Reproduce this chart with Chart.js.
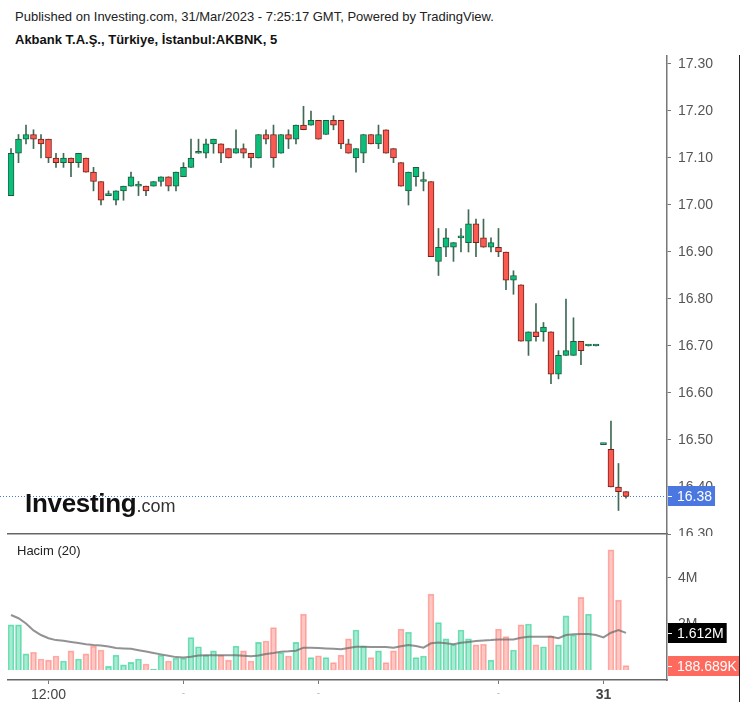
<!DOCTYPE html>
<html>
<head>
<meta charset="utf-8">
<script src="https://cdn.jsdelivr.net/npm/chart.js@4.4.0/dist/chart.umd.min.js"></script>
<style>
  body { margin: 0; background: #fff; width: 747px; height: 707px; overflow: hidden; position: relative; font-family: "Liberation Sans", Arial, sans-serif; }
  .txt { position: absolute; white-space: nowrap; line-height: 13px; font-size: 13px; color: #222; }
  #price_chart { position: absolute; left: 0; top: 55px; }
  #volume_chart { position: absolute; left: 0; top: 535px; }
  #logo { position: absolute; left: 25px; top: 490px; line-height: 26px; white-space: nowrap; color: #111; }
  #logo b { font-size: 26px; letter-spacing: -0.3px; }
  #logo span { font-size: 18px; color: #333; }
  #edge { position: absolute; left: 739px; top: 55px; width: 1px; height: 647px; background: #222; }
</style>
</head>
<body>
<div class="txt" style="left:15px; top:10px;">Published on Investing.com, 31/Mar/2023 - 7:25:17 GMT, Powered by TradingView.</div>
<div class="txt" style="left:15px; top:33px; font-weight:bold; color:#111;">Akbank T.A.Ş., Türkiye, İstanbul:AKBNK, 5</div>
<canvas id="price_chart" width="747" height="481"></canvas>
<canvas id="volume_chart" width="747" height="172"></canvas>
<div id="logo"><b>Investing</b><span>.com</span></div>
<div class="txt" style="left:17px; top:544px;">Hacim (20)</div>
<div id="edge"></div>
<script>
// 5 minute candles, AKBNK
const opens = [17.02,17.11,17.14,17.15,17.14,17.14,17.10,17.09,17.10,17.09,
  17.10,17.07,17.05,17.02,17.01,17.03,17.04,17.04,17.04,17.04,
  17.05,17.06,17.04,17.06,17.08,17.11,17.11,17.13,17.13,17.12,
  17.11,17.12,17.11,17.10,17.15,17.15,17.11,17.15,17.14,17.17,
  17.17,17.18,17.15,17.18,17.18,17.13,17.10,17.11,17.15,17.13,
  17.16,17.12,17.09,17.03,17.06,17.05,17.05,16.88,16.91,16.91,
  16.93,16.92,16.96,16.93,16.91,16.91,16.90,16.84,16.83,16.71,
  16.73,16.73,16.73,16.64,16.68,16.68,16.71,16.70,16.70,16.49,
  16.48,16.40,16.39];
const highs = [17.12,17.15,17.17,17.16,17.15,17.14,17.11,17.11,17.10,17.11,
  17.10,17.08,17.05,17.03,17.03,17.04,17.07,17.05,17.04,17.05,
  17.06,17.06,17.07,17.09,17.14,17.14,17.14,17.14,17.13,17.12,
  17.16,17.13,17.11,17.15,17.16,17.17,17.15,17.16,17.17,17.21,
  17.20,17.18,17.18,17.19,17.18,17.14,17.12,17.15,17.15,17.17,
  17.16,17.12,17.09,17.07,17.08,17.07,17.05,16.95,16.95,16.92,
  16.95,16.99,16.97,16.97,16.93,16.95,16.90,16.86,16.83,16.73,
  16.79,16.75,16.73,16.69,16.80,16.76,16.71,16.70,16.70,16.49,
  16.54,16.45,16.39];
const lows = [17.02,17.09,17.13,17.12,17.10,17.09,17.08,17.08,17.06,17.08,
  17.07,17.03,17.00,17.02,17.00,17.01,17.04,17.02,17.02,17.04,
  17.04,17.03,17.03,17.06,17.08,17.11,17.10,17.11,17.09,17.10,
  17.11,17.10,17.08,17.10,17.13,17.08,17.11,17.12,17.13,17.16,
  17.17,17.14,17.15,17.16,17.12,17.11,17.07,17.09,17.13,17.12,
  17.11,17.09,17.04,17.00,17.04,17.03,16.89,16.85,16.89,16.88,
  16.90,16.90,16.89,16.91,16.90,16.89,16.82,16.81,16.71,16.68,
  16.71,16.71,16.62,16.63,16.68,16.68,16.66,16.70,16.70,16.49,
  16.40,16.35,16.376];
const closes = [17.11,17.14,17.15,17.14,17.13,17.10,17.09,17.10,17.09,17.11,
  17.07,17.05,17.01,17.02,17.03,17.04,17.06,17.04,17.03,17.05,
  17.06,17.04,17.07,17.08,17.10,17.11,17.13,17.14,17.11,17.10,
  17.12,17.11,17.10,17.15,17.14,17.10,17.15,17.14,17.17,17.16,
  17.18,17.14,17.18,17.17,17.13,17.11,17.12,17.15,17.13,17.15,
  17.11,17.10,17.04,17.07,17.08,17.05,16.89,16.91,16.93,16.92,
  16.93,16.96,16.92,16.91,16.92,16.90,16.84,16.85,16.71,16.73,
  16.72,16.74,16.64,16.68,16.69,16.71,16.69,16.70,16.70,16.49,
  16.40,16.39,16.38];
const volumes = [1960000,1960000,700000,770000,480000,430000,610000,390000,830000,480000,
  700000,1040000,870000,160000,650000,220000,330000,480000,260000,40000,
  650000,390000,510000,510000,1410000,1010000,650000,830000,650000,430000,
  1040000,830000,390000,1200000,1260000,1840000,750000,610000,1200000,2430000,
  540000,620000,540000,320000,650000,1350000,1740000,1040000,540000,830000,
  320000,830000,1780000,1640000,540000,610000,3300000,2060000,1350000,1100000,
  1740000,1350000,1090000,1120000,430000,1780000,1450000,870000,1960000,2000000,
  1090000,1010000,1490000,1090000,2350000,1520000,3160000,2430000,0,0,
  5220000,3040000,188689];
// Hacim (20) average line
const volumeAverage = [2390000,2250000,2020000,1720000,1520000,1380000,1300000,1270000,1220000,1170000,
  1120000,1090000,1070000,1020000,960000,940000,920000,860000,800000,740000,
  680000,620000,560000,540000,580000,630000,640000,640000,640000,640000,
  640000,620000,600000,630000,700000,740000,790000,810000,840000,970000,
  970000,960000,940000,920000,900000,960000,1010000,1010000,1000000,1000000,
  1000000,970000,1030000,1090000,1040000,970000,1160000,1200000,1160000,1120000,
  1180000,1220000,1260000,1280000,1300000,1330000,1330000,1330000,1400000,1450000,
  1450000,1450000,1450000,1380000,1520000,1550000,1570000,1570000,1520000,1420000,
  1620000,1740000,1612000];
const priceTicks = [16.3, 16.4, 16.5, 16.6, 16.7, 16.8, 16.9, 17.0, 17.1, 17.2, 17.3];
const volumeTicks = [2000000, 4000000];
const timeTickIndex = [5, 23, 41, 65, 79];
const timeTickLabels = ["12:00", "-", "-", "-", "31"];

const UP_BODY = "#0bbf7a";
const UP_BORDER = "#1e5b3f";
const DOWN_BODY = "#fa5a4f";
const DOWN_BORDER = "#73231d";
const WICK = "#3f6a55";
const UP_VOL = "rgba(12,200,130,0.36)";
const UP_VOL_BORDER = "rgba(12,200,130,0.55)";
const DOWN_VOL = "rgba(255,100,90,0.36)";
const DOWN_VOL_BORDER = "rgba(255,100,90,0.5)";

const X_MIN = -0.4;
const X_MAX = 87.47;

Chart.defaults.font.family = '"Liberation Sans", Arial, sans-serif';
Chart.defaults.font.size = 14;

function pick(i, up, down) {
  return closes[i] >= opens[i] ? up : down;
}

function formatVolume(v) {
  if (v >= 1000000) return (v / 1000000).toFixed(3) + "M";
  return (v / 1000).toFixed(3) + "K";
}

function drawTag(ctx, chart, y, text, bg, fg) {
  const left = chart.chartArea.right + 1;
  ctx.font = '14px "Liberation Sans", Arial, sans-serif';
  const w = ctx.measureText(text).width;
  ctx.fillStyle = bg;
  ctx.fillRect(left, Math.round(y) - 10, w + 12, 20);
  ctx.fillStyle = fg;
  ctx.fillRect(left, Math.round(y), 4, 1);
  ctx.textBaseline = "middle";
  ctx.fillText(text, left + 9, Math.round(y) + 1);
}

const lastPricePlugin = {
  id: "lastPrice",
  beforeDatasetsDraw(chart) {
    const { ctx, chartArea } = chart;
    const y = Math.round(chart.scales.y.getPixelForValue(closes[closes.length - 1])) + 0.5;
    ctx.save();
    ctx.strokeStyle = "#4a78e0";
    ctx.lineWidth = 1;
    ctx.setLineDash([1, 2]);
    ctx.beginPath();
    ctx.moveTo(chartArea.left - 8, y);
    ctx.lineTo(chartArea.right, y);
    ctx.stroke();
    ctx.restore();
  },
  afterDraw(chart) {
    const last = closes[closes.length - 1];
    const y = chart.scales.y.getPixelForValue(last);
    chart.ctx.save();
    drawTag(chart.ctx, chart, y, last.toFixed(2), "#4a78e0", "#fff");
    chart.ctx.restore();
  },
};

const lastVolumePlugin = {
  id: "lastVolume",
  afterDraw(chart) {
    const n = volumes.length - 1;
    const ctx = chart.ctx;
    ctx.save();
    drawTag(ctx, chart, chart.scales.y.getPixelForValue(volumeAverage[n]), formatVolume(volumeAverage[n]), "#000", "#fff");
    drawTag(ctx, chart, chart.scales.y.getPixelForValue(volumes[n]), formatVolume(volumes[n]), "#ff6a5e", "#fff");
    ctx.restore();
  },
};

function rightAxisFit(scale) {
  scale.width = 80;
  scale.paddingTop = 0;
  scale.paddingBottom = 0;
}

function createPriceChart() {
  const ctx = document.getElementById("price_chart");
  const idx = closes.map((c, i) => i);
  return new Chart(ctx, {
    type: "bar",
    data: {
      datasets: [
        {
          order: 0,
          data: idx.map((i) => ({ x: i, y: [opens[i], closes[i]] })),
          backgroundColor: idx.map((i) => pick(i, UP_BODY, DOWN_BODY)),
          borderColor: idx.map((i) => pick(i, UP_BORDER, DOWN_BORDER)),
          borderWidth: 1,
          borderSkipped: false,
          barThickness: 6,
          minBarLength: 2,
          grouped: false,
        },
        {
          order: 1,
          data: idx.map((i) => ({ x: i, y: [lows[i], highs[i]] })),
          backgroundColor: WICK,
          barThickness: 1,
          minBarLength: 1,
          grouped: false,
        },
      ],
    },
    options: {
      responsive: false,
      animation: false,
      devicePixelRatio: 1,
      layout: { padding: { left: 8, right: 0, top: 0, bottom: 0 } },
      plugins: { legend: { display: false }, tooltip: { enabled: false } },
      scales: {
        x: {
          type: "linear",
          offset: false,
          min: X_MIN,
          max: X_MAX,
          ticks: { display: false },
          grid: { display: false, offset: false },
          border: { display: true, color: "#666", width: 1.5 },
          afterFit: (s) => { s.height = 2; s.paddingLeft = 0; s.paddingRight = 0; },
        },
        y: {
          position: "right",
          min: 16.3,
          max: 17.3191,
          afterBuildTicks: (s) => { s.ticks = priceTicks.map((v) => ({ value: v })); },
          afterFit: rightAxisFit,
          ticks: { callback: (v) => v.toFixed(2), color: "#555", padding: 7 },
          grid: { drawOnChartArea: false, tickLength: 4, color: "#777" },
          border: { color: "#777", width: 1.5 },
        },
      },
    },
    plugins: [lastPricePlugin],
  });
}

function createVolumeChart() {
  const ctx = document.getElementById("volume_chart");
  const idx = volumes.map((v, i) => i);
  return new Chart(ctx, {
    type: "bar",
    data: {
      datasets: [
        {
          type: "line",
          order: 0,
          data: idx.map((i) => ({ x: i, y: volumeAverage[i] })),
          borderColor: "rgba(110,110,110,0.75)",
          borderWidth: 2,
          pointRadius: 0,
          tension: 0,
        },
        {
          order: 1,
          data: idx.map((i) => ({ x: i, y: volumes[i] })),
          backgroundColor: idx.map((i) => pick(i, UP_VOL, DOWN_VOL)),
          borderColor: idx.map((i) => pick(i, UP_VOL_BORDER, DOWN_VOL_BORDER)),
          borderWidth: 1,
          borderSkipped: "start",
          barThickness: 6,
          grouped: false,
        },
      ],
    },
    options: {
      responsive: false,
      animation: false,
      devicePixelRatio: 1,
      layout: { padding: { left: 8, right: 0, top: 0, bottom: 0 } },
      plugins: { legend: { display: false }, tooltip: { enabled: false } },
      scales: {
        x: {
          type: "linear",
          offset: false,
          min: X_MIN,
          max: X_MAX,
          afterBuildTicks: (s) => { s.ticks = timeTickIndex.map((v) => ({ value: v })); },
          afterFit: (s) => { s.height = 27; s.paddingLeft = 0; s.paddingRight = 0; },
          ticks: {
            autoSkip: false,
            maxRotation: 0,
            padding: 3,
            callback: (v) => timeTickLabels[timeTickIndex.indexOf(v)],
            color: (c) => (timeTickLabels[c.index] === "-" ? "#bbb" : "#444"),
            font: (c) => ({
              size: timeTickLabels[c.index] === "-" ? 10 : 14,
              weight: timeTickLabels[c.index] === "31" ? "bold" : "normal",
            }),
          },
          grid: { drawOnChartArea: false, offset: false, tickLength: 4, color: "#777" },
          border: { color: "#666", width: 1.5 },
        },
        y: {
          position: "right",
          min: -434783,
          max: 5869565,
          afterBuildTicks: (s) => { s.ticks = volumeTicks.map((v) => ({ value: v })); },
          afterFit: rightAxisFit,
          ticks: { callback: (v) => v / 1000000 + "M", color: "#555", padding: 7 },
          grid: { drawOnChartArea: false, tickLength: 4, color: "#777" },
          border: { color: "#777", width: 1.5 },
        },
      },
    },
    plugins: [lastVolumePlugin],
  });
}

createPriceChart();
createVolumeChart();
</script>
</body>
</html>
